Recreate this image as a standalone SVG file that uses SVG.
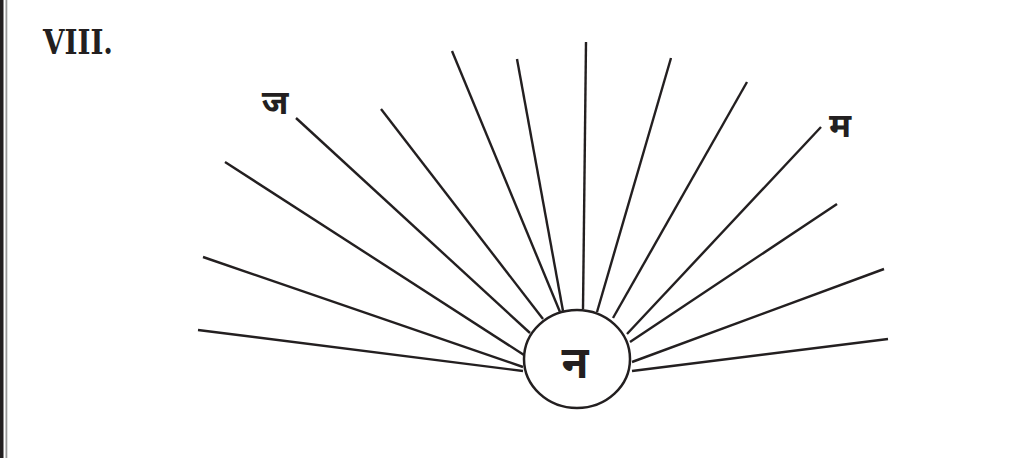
<svg xmlns="http://www.w3.org/2000/svg" width="1024" height="458" viewBox="0 0 1024 458">
<style>
.ray{stroke:#231f20;stroke-width:2.4;stroke-linecap:butt;fill:none}
.dev{font-family:"Noto Sans Devanagari","Noto Sans","Lohit Devanagari",sans-serif;font-weight:bold;fill:#231f20}
</style>
<rect x="0" y="0" width="1024" height="458" fill="#ffffff"/>
<rect x="0" y="0" width="3.5" height="458" fill="#231f20"/>
<rect x="5.5" y="0" width="1.8" height="458" fill="#9a9a9a"/>
<text x="43" y="54" font-family="DejaVu Serif, serif" font-weight="bold" font-size="33" textLength="70" lengthAdjust="spacingAndGlyphs" fill="#231f20">VIII.</text>
<g id="connectors">
<line class="ray" x1="198" y1="330" x2="523" y2="371"/>
<line class="ray" x1="203" y1="257" x2="523" y2="367"/>
<line class="ray" x1="225" y1="162" x2="524" y2="355"/>
<line class="ray" x1="296" y1="118" x2="530" y2="333"/>
<line class="ray" x1="381" y1="109" x2="543" y2="319"/>
<line class="ray" x1="452" y1="51" x2="560" y2="312"/>
<line class="ray" x1="517" y1="59" x2="563" y2="311"/>
<line class="ray" x1="586" y1="42" x2="583" y2="309"/>
<line class="ray" x1="671" y1="58" x2="597" y2="312"/>
<line class="ray" x1="747" y1="82" x2="613" y2="318"/>
<line class="ray" x1="821" y1="127" x2="627" y2="334"/>
<line class="ray" x1="837" y1="204" x2="630" y2="342"/>
<line class="ray" x1="884" y1="269" x2="632" y2="362"/>
<line class="ray" x1="888" y1="339" x2="632" y2="371"/>
</g>
<g id="node-na">
<ellipse cx="577" cy="359" rx="53" ry="49" fill="#ffffff" stroke="#231f20" stroke-width="2.5"/>
<text class="dev" x="575" y="378" font-size="44" text-anchor="middle">न</text>
</g>
<g id="label-ja">
<text class="dev" x="275" y="114" font-size="34" text-anchor="middle">ज</text>
</g>
<g id="label-ma">
<text class="dev" x="840" y="137" font-size="34" text-anchor="middle">म</text>
</g>
</svg>
